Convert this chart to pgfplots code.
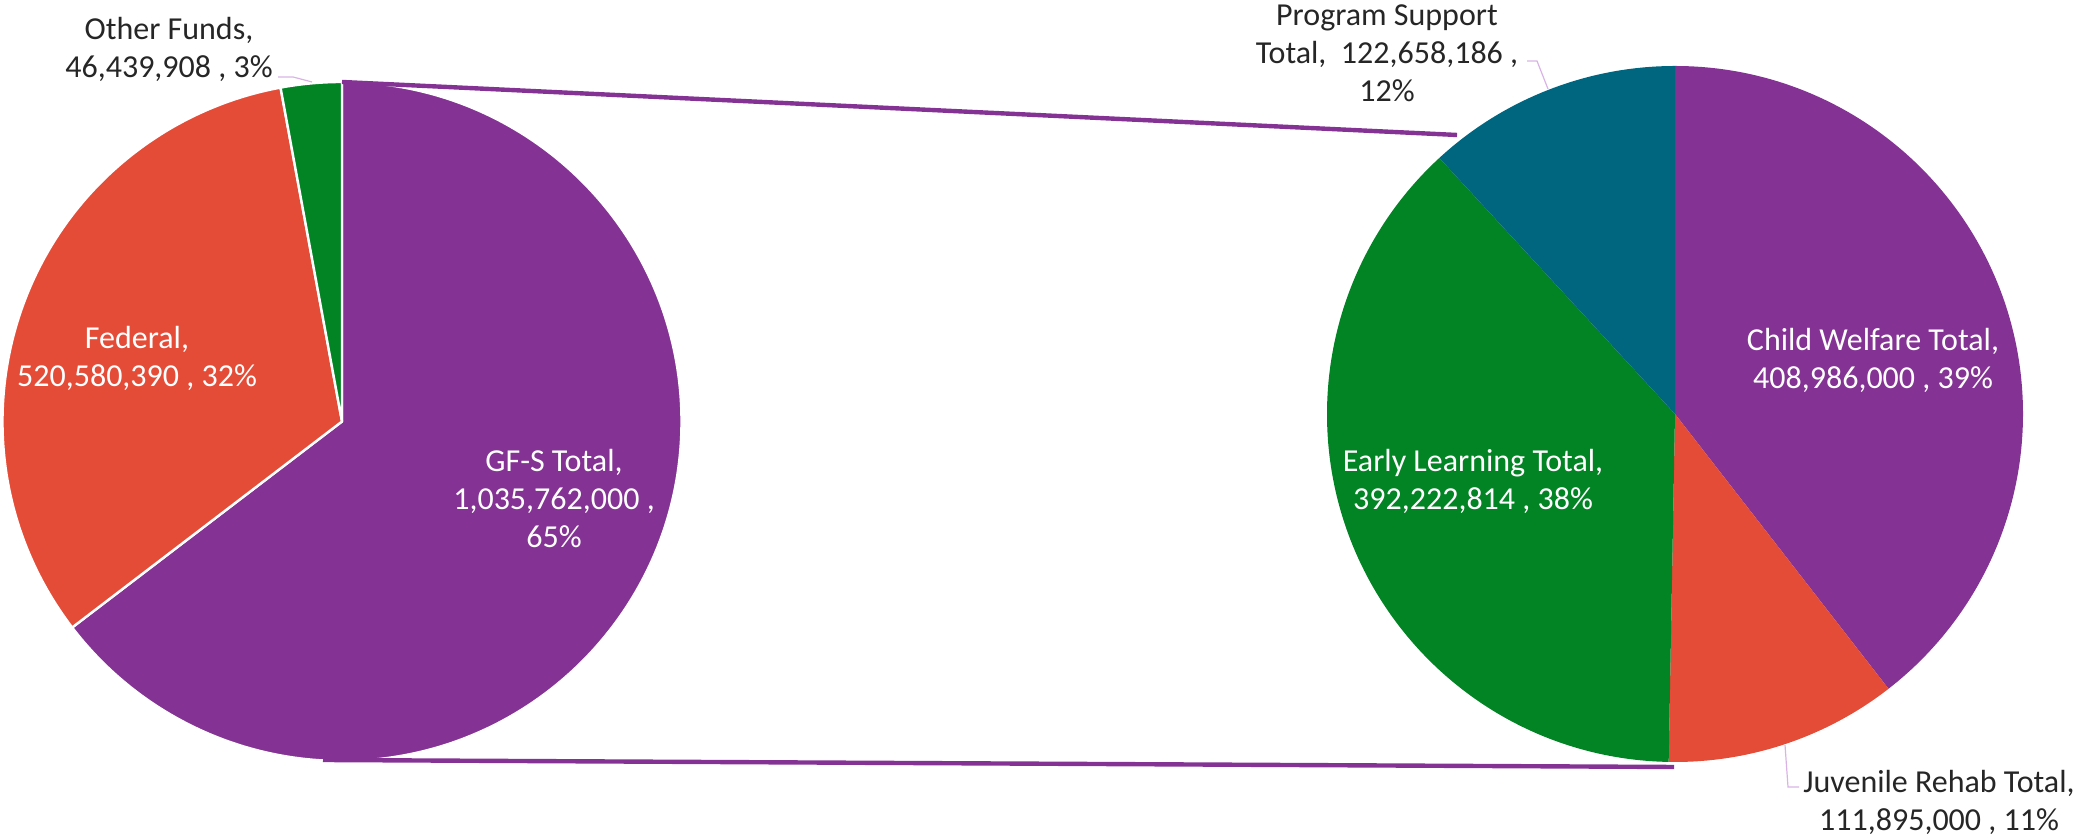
\documentclass[border=0pt]{standalone}
\usepackage{pgfplots}
\pgfplotsset{compat=1.18}
\usepackage{fontspec}
\setmainfont{Carlito}
\definecolor{cPurple}{HTML}{843294}
\definecolor{cRed}{HTML}{E54C37}
\definecolor{cGreen}{HTML}{028424}
\definecolor{cTeal}{HTML}{006680}
\definecolor{cText}{HTML}{262626}
\definecolor{cLeader}{HTML}{D9B3E6}
% data (left pie)
\def\vGF{1035762000}
\def\vFed{520580390}
\def\vOther{46439908}
% data (right pie: breakdown of GF-S)
\def\vCW{408986000}
\def\vJR{111895000}
\def\vEL{392222814}
\def\vPS{122658186}
\edef\tA{\fpeval{\vGF+\vFed+\vOther}}
\edef\aA{\fpeval{90-360*\vGF/\tA}}
\edef\aB{\fpeval{\aA-360*\vFed/\tA}}
\edef\tB{\fpeval{\vCW+\vJR+\vEL+\vPS}}
\edef\bA{\fpeval{90-360*\vCW/\tB}}
\edef\bB{\fpeval{\bA-360*\vJR/\tB}}
\edef\bC{\fpeval{\bB-360*\vEL/\tB}}
\begin{document}
\begin{tikzpicture}
\begin{axis}[x=0.5pt, y=0.5pt, xmin=0, xmax=2079, ymin=0, ymax=839,
  hide axis, clip=false, scale only axis]
\coordinate (BL) at (axis cs:0,0);
\coordinate (TR) at (axis cs:2079,839);
% left pie, centre (342,417.5), r = 339.5 px = 169.75pt
\def\rL{169.75pt}
\filldraw[cPurple, draw=white, line width=1.2pt, line join=round] (axis cs:342,417.5) -- ++(90:\rL) arc[start angle=90, end angle=\aA, radius=\rL] -- cycle;
\filldraw[cRed, draw=white, line width=1.2pt, line join=round] (axis cs:342,417.5) -- ++(\aA:\rL) arc[start angle=\aA, end angle=\aB, radius=\rL] -- cycle;
\filldraw[cGreen, draw=white, line width=1.2pt, line join=round] (axis cs:342,417.5) -- ++(\aB:\rL) arc[start angle=\aB, end angle=-270, radius=\rL] -- cycle;
% right pie, centre (1675,425), r = 348 px = 174pt
\def\rR{174pt}
\fill[cPurple] (axis cs:1675,425) -- ++(90:\rR) arc[start angle=90, end angle=\bA, radius=\rR] -- cycle;
\fill[cRed] (axis cs:1675,425) -- ++(\bA:\rR) arc[start angle=\bA, end angle=\bB, radius=\rR] -- cycle;
\fill[cGreen] (axis cs:1675,425) -- ++(\bB:\rR) arc[start angle=\bB, end angle=\bC, radius=\rR] -- cycle;
\fill[cTeal] (axis cs:1675,425) -- ++(\bC:\rR) arc[start angle=\bC, end angle=-270, radius=\rR] -- cycle;
% connector lines
\draw[cPurple, line width=2.2pt] (axis cs:342,757) -- (axis cs:1457,704);
\draw[cPurple, line width=2.2pt] (axis cs:323,79) -- (axis cs:1674,72);
% leader lines
\draw[cLeader, line width=0.6pt] (axis cs:278,762) -- (axis cs:293,762) -- (axis cs:312,757);
\draw[cLeader, line width=0.6pt] (axis cs:1527,778) -- (axis cs:1537,778) -- (axis cs:1548,750);
\draw[cLeader, line width=0.6pt] (axis cs:1785,94) -- (axis cs:1788,52) -- (axis cs:1799,52);
% labels
\tikzset{lbl/.style={align=center, inner sep=0pt, font=\fontsize{16}{19}\selectfont}}
\node[lbl, text=cText] at (axis cs:169,790) {Other Funds,\\46,439,908 , 3\%};
\node[lbl, text=white] at (axis cs:137,481) {Federal,\\520,580,390 , 32\%};
\node[lbl, text=white] at (axis cs:554,340) {GF-S Total,\\1,035,762,000 ,\\65\%};
\node[lbl, text=cText] at (axis cs:1387,786) {Program Support\\Total,\ \ 122,658,186 ,\\12\%};
\node[lbl, text=cText] at (axis cs:1939,37) {Juvenile Rehab Total,\\111,895,000 , 11\%};
\node[lbl, text=white] at (axis cs:1473,358) {Early Learning Total,\\392,222,814 , 38\%};
\node[lbl, text=white] at (axis cs:1873,479) {Child Welfare Total,\\408,986,000 , 39\%};
\end{axis}
\pgfresetboundingbox
\path (BL) rectangle (TR);
\end{tikzpicture}
\end{document}
